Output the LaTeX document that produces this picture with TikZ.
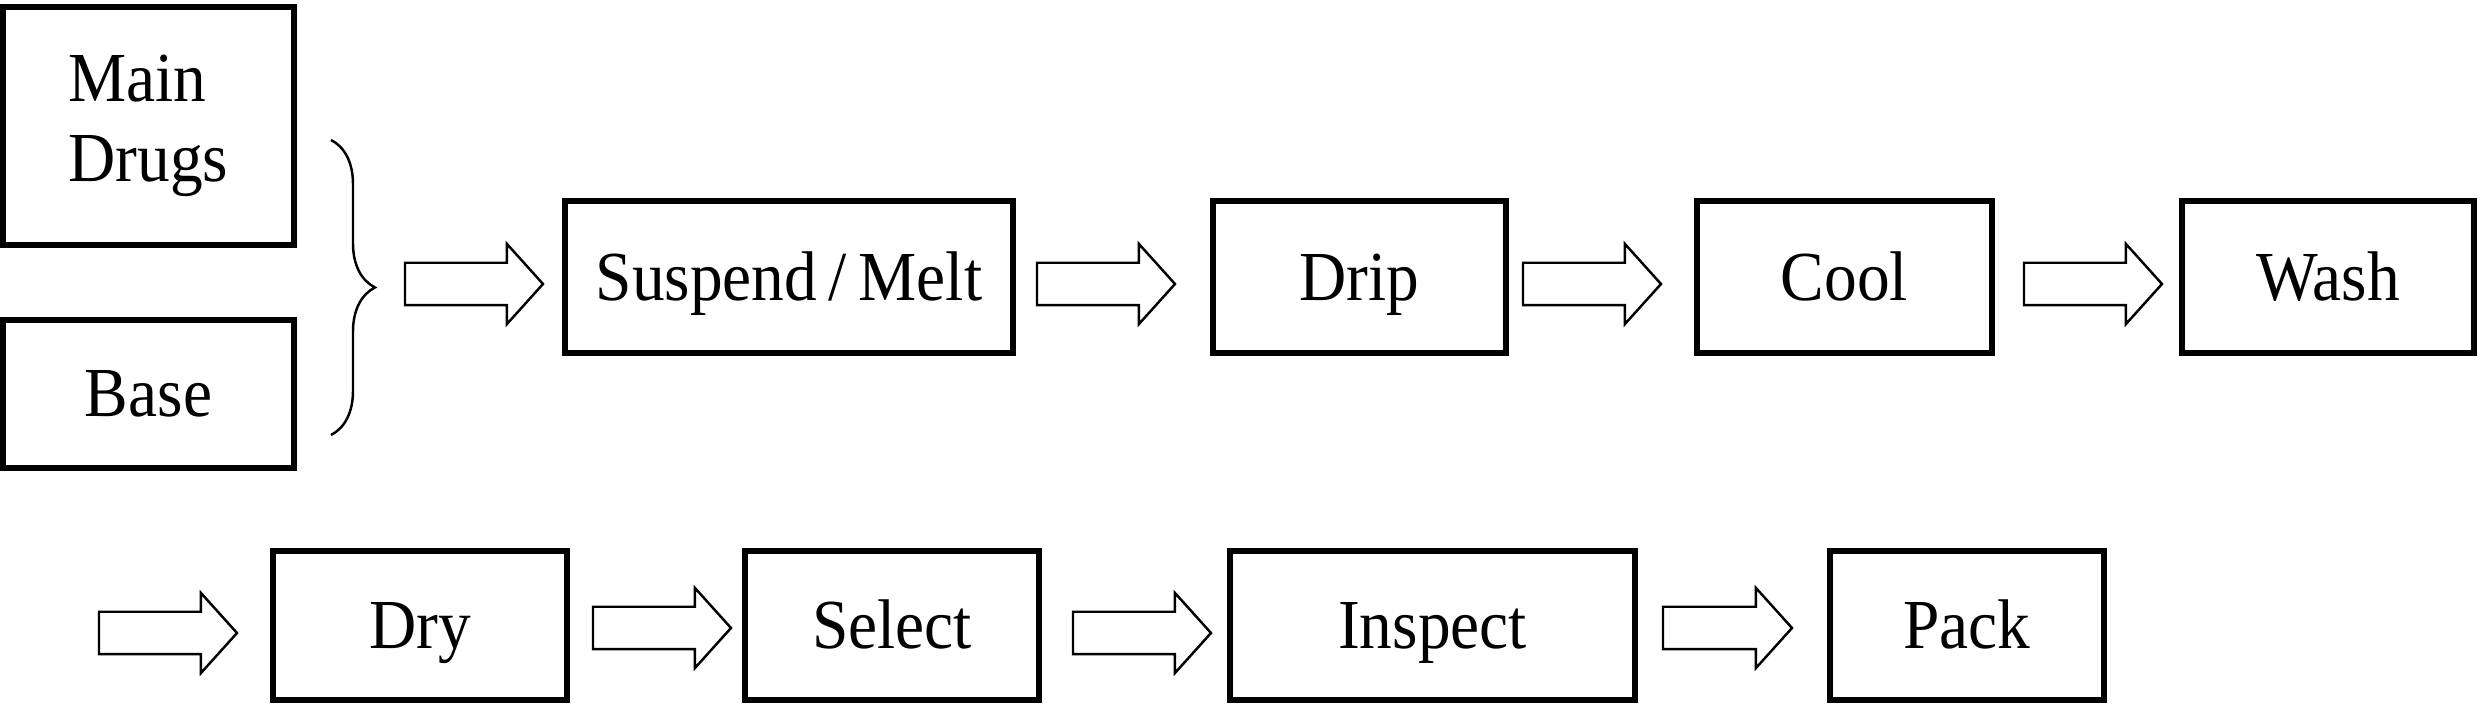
\documentclass[tikz,border=0pt]{standalone}
\usepackage{fontspec}
\setmainfont{Liberation Serif}[FakeStretch=0.93]
\usetikzlibrary{calc,shapes.arrows,decorations.pathreplacing}

\begin{document}
\begin{tikzpicture}[
  every node/.style={font=\fontsize{20pt}{22.7pt}\selectfont},
  src/.style={draw,line width=1.5pt,inner sep=0pt,outer sep=0pt,align=left,
              minimum width=2.91cm},
  stage/.style={draw,line width=1.5pt,inner sep=0pt,outer sep=0pt,
                text height=0.47cm,text depth=0pt},
  blk/.style={single arrow,draw,line width=0.7pt,inner sep=0pt,outer sep=0pt,
              text height=0.40cm,text depth=0pt,
              minimum height=1.38cm,minimum width=0.78cm,
              single arrow head extend=0.19cm,
              single arrow tip angle=96,anchor=tail}
]
\useasboundingbox (0,0) rectangle (24.81,-7.05);

% raw materials
\node[src,minimum height=2.38cm] (drug) at (1.485,-1.26) {Main\\Drugs};
\node[src,minimum height=1.48cm] (base) at (1.485,-3.94) {Base};

% brace joining both
\coordinate (bt) at (3.31,-1.40);
\coordinate (bb) at (3.31,-4.35);
\coordinate (tip) at ($(bt)!0.5!(bb)+(0.44,0)$);
\draw[line width=0.7pt,decorate,decoration={brace,amplitude=0.44cm}] (bt) -- (bb);

% first row
\node[stage,minimum width=4.48cm,minimum height=1.52cm] (susp) at (7.89,-2.77)
   {Suspend\,/\,Melt};
\node[stage,minimum width=2.93cm,minimum height=1.52cm] (drip) at (13.595,-2.77) {Drip};
\node[stage,minimum width=2.95cm,minimum height=1.52cm] (cool) at (18.445,-2.77) {Cool};
\node[stage,minimum width=2.92cm,minimum height=1.52cm] (wash) at (23.28,-2.77) {Wash};

\node[blk] (a1) at ($(tip)+(0.30,0.035)$) {};
\node[blk] (a2) at ($(susp.east)+(0.24,-0.07)$) {};
\node[blk] (a3) at ($(drip.east)+(0.17,-0.07)$) {};
\node[blk] (a4) at ($(cool.east)+(0.32,-0.07)$) {};

% second row
\node[stage,minimum width=2.94cm,minimum height=1.49cm] (dry) at (4.20,-6.255) {Dry};
\node[stage,minimum width=2.94cm,minimum height=1.49cm] (sel) at (8.92,-6.255) {Select};
\node[stage,minimum width=4.05cm,minimum height=1.49cm] (insp) at (14.325,-6.255) {Inspect};
\node[stage,minimum width=2.74cm,minimum height=1.49cm] (pack) at (19.67,-6.255) {Pack};

\node[blk,anchor=tip] (a5) at ($(dry.west)+(-0.36,-0.075)$) {};
\node[blk] (a6) at ($(dry.east)+(0.26,-0.025)$) {};
\node[blk] (a7) at ($(sel.east)+(0.34,-0.075)$) {};
\node[blk,minimum height=1.29cm] (a8) at ($(insp.east)+(0.28,-0.025)$) {};
\end{tikzpicture}
\end{document}
